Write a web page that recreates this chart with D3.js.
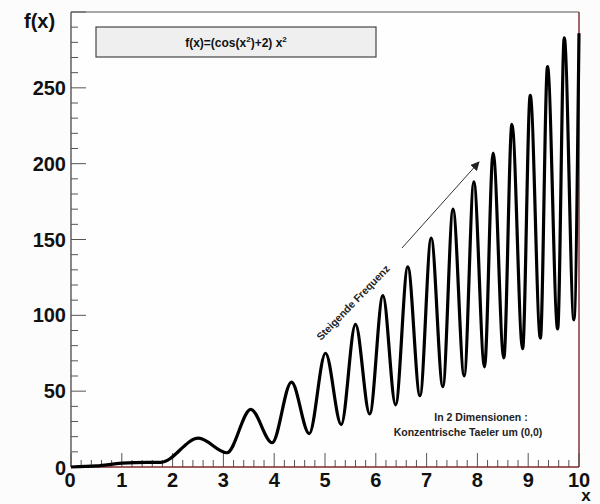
<!DOCTYPE html>
<html><head><meta charset="utf-8">
<script src="https://cdn.jsdelivr.net/npm/d3@7"></script>
<style>body{margin:0;background:#fcfcfc;} svg{display:block;}</style>
</head><body>
<script>
// Points (extrema and start segment)
const xValues = [0, 0.5, 1, 1.5, 1.77, 2.51, 3.07, 3.54, 3.96, 4.34, 4.69, 5.01, 5.32, 5.60, 5.88, 6.14, 6.39, 6.63, 6.87, 7.09, 7.32, 7.52, 7.74, 7.93, 8.14, 8.31, 8.52, 8.68, 8.89, 9.04, 9.24, 9.38, 9.58, 9.71, 9.90, 10];
const fValues = [0, 0.7, 2.5, 3.1, 3.1, 19, 9.4, 38, 16, 56, 22, 75, 28, 94, 35, 113, 41, 132, 47, 151, 53, 170, 60, 188, 66, 207, 72, 226, 78, 245, 85, 264, 91, 283, 97, 286];
const xTicks = [0,1,2,3,4,5,6,7,8,9,10];
const yTicks = [0,50,100,150,200,250];
const legendParts = [["f(x)=(cos(x", false], ["2", true], [")+2) x", false], ["2", true]];
const arrowLabel = "Steigende Frequenz";
const noteLines = ["In 2 Dimensionen :", "Konzentrische Taeler um (0,0)"];

const W = 600, H = 504;
const L = 71, R = 579, T = 12, B = 467;
const svg = d3.select("body").append("svg").attr("width", W).attr("height", H);
svg.append("rect").attr("width", W).attr("height", H).attr("fill", "#fcfcfc");

const x = d3.scaleLinear().domain([0, 10]).range([L, R]);
const y = d3.scaleLinear().domain([0, 300]).range([B, T]);
const font = "'Liberation Sans', Arial, Helvetica, sans-serif";

// frame
svg.append("rect").attr("x", L).attr("y", T).attr("width", R - L).attr("height", B - T)
  .attr("fill", "#fefefe").attr("stroke", "none");
svg.append("line").attr("x1", L).attr("x2", R).attr("y1", T).attr("y2", T).attr("stroke", "#555").attr("stroke-width", 1.2);
svg.append("line").attr("x1", R).attr("x2", R).attr("y1", T).attr("y2", B).attr("stroke", "#7a2a2a").attr("stroke-width", 1.4);

// minor/major ticks
const gx = svg.append("g");
d3.range(0, 101).forEach(i => {
  if (i % 2 !== 0) return;
  const v = i / 10;
  const major = i % 10 === 0;
  gx.append("line").attr("x1", x(v)).attr("x2", x(v)).attr("y1", B).attr("y2", B - (major ? 14 : 7))
    .attr("stroke", "#555").attr("stroke-width", 1);
});
d3.range(0, 31).forEach(i => {
  const v = i * 10;
  const major = i % 5 === 0;
  gx.append("line").attr("x1", L).attr("x2", L + (major ? 15 : 7)).attr("y1", y(v)).attr("y2", y(v))
    .attr("stroke", "#555").attr("stroke-width", 1);
});
svg.append("line").attr("x1", L).attr("x2", L).attr("y1", T).attr("y2", B).attr("stroke", "#555").attr("stroke-width", 1.4);
svg.append("line").attr("x1", L).attr("x2", R).attr("y1", B).attr("y2", B).attr("stroke", "#7a2a2a").attr("stroke-width", 1.6);

// tick labels
xTicks.forEach(t => {
  svg.append("text").attr("x", x(t) + (t === 0 ? -1 : 0)).attr("y", 487).attr("text-anchor", "middle")
    .attr("font-family", font).attr("font-weight", "bold").attr("font-size", 20).attr("fill", "#111").text(t);
});
yTicks.forEach(t => {
  svg.append("text").attr("x", 66).attr("y", y(t) + (t === 0 ? 8 : 7)).attr("text-anchor", "end")
    .attr("font-family", font).attr("font-weight", "bold").attr("font-size", 20).attr("fill", "#111").text(t);
});
svg.append("text").attr("x", 24).attr("y", 28).attr("font-family", font).attr("font-weight", "bold")
  .attr("font-size", 20).attr("fill", "#111").text("f(x)");
svg.append("text").attr("x", 586).attr("y", 501).attr("text-anchor", "middle").attr("font-family", font)
  .attr("font-weight", "bold").attr("font-size", 17).attr("fill", "#111").text("x");

// legend box
svg.append("rect").attr("x", 96).attr("y", 27).attr("width", 280).attr("height", 30)
  .attr("fill", "#efefef").attr("stroke", "#444").attr("stroke-width", 1.2);
const lt = svg.append("text").attr("x", 236).attr("y", 47).attr("text-anchor", "middle")
  .attr("font-family", font).attr("font-weight", "bold").attr("font-size", 12).attr("fill", "#111");
legendParts.forEach(([s, sup]) => {
  const ts = lt.append("tspan").text(s);
  if (sup) ts.attr("font-size", 8).attr("dy", -5);
  else ts.attr("dy", 0);
});
// reset baseline after superscripts
lt.selectAll("tspan").each(function(d, i) {
  const sel = d3.select(this);
  if (i > 0 && legendParts[i - 1][1] && !legendParts[i][1]) sel.attr("dy", 5);
});

// curve
const pts = xValues.map((v, i) => [v, fValues[i]]);
const line = d3.line().x(d => x(d[0])).y(d => y(d[1])).curve(d3.curveMonotoneX);
svg.append("path").attr("d", line(pts)).attr("fill", "none").attr("stroke", "#000")
  .attr("stroke-width", 3.2).attr("stroke-linejoin", "round");

// arrow
const defs = svg.append("defs");
defs.append("marker").attr("id", "ah").attr("viewBox", "0 0 10 10").attr("refX", 9).attr("refY", 5)
  .attr("markerWidth", 9).attr("markerHeight", 9).attr("markerUnits", "userSpaceOnUse").attr("orient", "auto")
  .append("path").attr("d", "M0,0 L10,5 L0,10 z").attr("fill", "#222");
svg.append("line").attr("x1", 402).attr("y1", 248).attr("x2", 479).attr("y2", 162)
  .attr("stroke", "#333").attr("stroke-width", 1).attr("marker-end", "url(#ah)");

// rotated label
svg.append("text").attr("transform", "translate(321,341) rotate(-46)")
  .attr("font-family", font).attr("font-weight", "bold").attr("font-size", 10.5).attr("fill", "#222").text(arrowLabel);

// note
noteLines.forEach((s, i) => {
  svg.append("text").attr("x", i === 0 ? 481 : 468).attr("y", 421 + i * 15).attr("text-anchor", "middle")
    .attr("font-family", font).attr("font-weight", "bold").attr("font-size", 10.5).attr("fill", "#222").text(s);
});
</script>
</body></html>
